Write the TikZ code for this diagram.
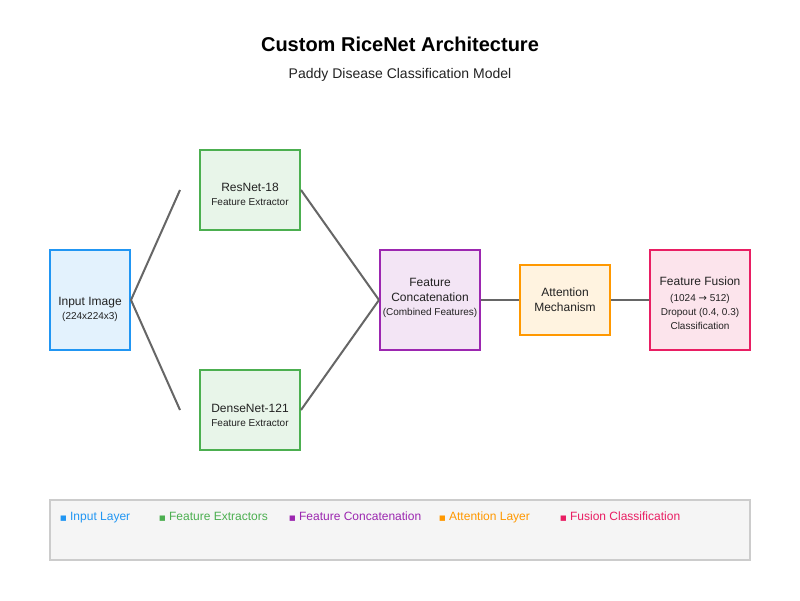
\documentclass[tikz,border=0pt]{standalone}
\usepackage{fontspec}
\setmainfont{Liberation Sans}
\newfontfamily\symfont{DejaVu Sans}
\definecolor{inB}{HTML}{2196F3}\definecolor{inF}{HTML}{E3F2FD}
\definecolor{exB}{HTML}{4CAF50}\definecolor{exF}{HTML}{E8F5E9}
\definecolor{coB}{HTML}{9C27B0}\definecolor{coF}{HTML}{F3E5F5}
\definecolor{atB}{HTML}{FF9800}\definecolor{atF}{HTML}{FFF3E0}
\definecolor{fuB}{HTML}{E91E63}\definecolor{fuF}{HTML}{FCE4EC}
\definecolor{lnC}{HTML}{666666}
\definecolor{txC}{HTML}{222222}
\tikzset{
  blk/.style={draw, line width=2pt, rectangle, inner sep=0pt},
  lbl/.style={align=center, text=txC, inner sep=0pt, font=\fontsize{12}{15}\selectfont},
  conn/.style={draw=lnC, line width=2pt},
  legtxt/.style={anchor=west, inner sep=0pt, font=\fontsize{12}{14}\selectfont},
}
\newcommand{\subt}[1]{{\fontsize{10}{14}\selectfont #1}}
\newcommand{\lsq}{{\symfont\fontsize{7}{8}\selectfont ■}}
\begin{document}
\begin{tikzpicture}[x=1pt,y=-1pt]
\useasboundingbox (0,0) rectangle (800,600);
\fill[white] (0,0) rectangle (800,600);
\node[font=\bfseries\fontsize{20}{24}\selectfont, text=black] (title) at (400,44) {Custom RiceNet Architecture};
\node[font=\fontsize{14}{17}\selectfont, text=txC] (subtitle) at (400,75) {Paddy Disease Classification Model};

\node[blk, draw=inB, fill=inF, minimum width=80pt, minimum height=100pt] (in) at (90,300) {};
\node[blk, draw=exB, fill=exF, minimum width=100pt, minimum height=80pt] (res) at (250,190) {};
\node[blk, draw=exB, fill=exF, minimum width=100pt, minimum height=80pt] (den) at (250,410) {};
\node[blk, draw=coB, fill=coF, minimum width=100pt, minimum height=100pt] (cat) at (430,300) {};
\node[blk, draw=atB, fill=atF, minimum width=90pt, minimum height=70pt] (att) at (565,300) {};
\node[blk, draw=fuB, fill=fuF, minimum width=100pt, minimum height=100pt] (fus) at (700,300) {};

\node[lbl, yshift=-9pt] (inT) at (in) {Input Image\\[-1pt]\subt{(224x224x3)}};
\node[lbl, yshift=-4pt] (resT) at (res) {ResNet-18\\[-1pt]\subt{Feature Extractor}};
\node[lbl, yshift=-5pt] (denT) at (den) {DenseNet-121\\[-1pt]\subt{Feature Extractor}};
\node[lbl, yshift=2.5pt] (catT) at (cat) {Feature\\Concatenation\\[-1pt]\subt{(Combined Features)}};
\node[lbl, yshift=0pt] (attT) at (att) {Attention\\Mechanism};
\node[lbl, yshift=-3pt] (fusT) at (fus) {Feature Fusion\\[1pt]\subt{(1024 {\symfont\fontsize{10}{10}\selectfont →} 512)}\\[-1pt]\subt{Dropout (0.4, 0.3)}\\[-1pt]\subt{Classification}};

\coordinate (rT) at (180,190);
\coordinate (rB) at (180,410);
\draw[conn] (in.east) -- (rT);
\draw[conn] (in.east) -- (rB);
\draw[conn] (res.east) -- (cat.west);
\draw[conn] (den.east) -- (cat.west);
\draw[conn] (cat.east) -- (att.west);
\draw[conn] (att.east) -- (fus.west);

\node[draw=black!20, line width=2pt, fill=black!4, minimum width=700pt, minimum height=60pt, inner sep=0pt] (leg) at (400,530) {};
\node[legtxt, text=inB, anchor=base west] (l1) at (60,520) {\lsq\ Input Layer};
\node[legtxt, text=exB, anchor=base west] (l2) at (159,520) {\lsq\ Feature Extractors};
\node[legtxt, text=coB, anchor=base west] (l3) at (289,520) {\lsq\ Feature Concatenation};
\node[legtxt, text=atB, anchor=base west] (l4) at (439,520) {\lsq\ Attention Layer};
\node[legtxt, text=fuB, anchor=base west] (l5) at (560,520) {\lsq\ Fusion Classification};
\end{tikzpicture}
\end{document}
